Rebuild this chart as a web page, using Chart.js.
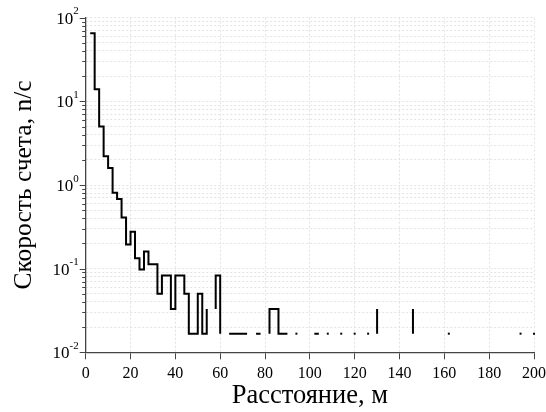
<!DOCTYPE html>
<html>
<head>
<meta charset="utf-8">
<script src="https://cdn.jsdelivr.net/npm/chart.js@4.4.0/dist/chart.umd.min.js"></script>
<style>
  html, body { margin: 0; padding: 0; background: #fff; }
  #chart { display: block; }
</style>
</head>
<body>
<canvas id="chart" width="546" height="412"></canvas>
<script>
/** Data **/

// Distance (m) of each step point. null rate = break in the line
const distance = [
    2, 4, 6, 8, 10, 12, 14, 16, 18, 20, 22, 24, 26, 28, 30, 32, 34, 36, 38, 40,
    42, 44, 46, 48, 50, 52, 54, 56, 58, 58, 60, 62,
    64, 66, 68, 70, 72, 74, 76, 78, 80,
    82, 82, 84, 86, 88, 90, 92, 94, 96, 102, 104, 106,
    108, 110, 114, 116, 120, 122, 126, 128, 130, 130, 132,
    146, 146, 148, 162, 164, 194, 196, 200
];

// Count rate (n/c)
const rate = [
    65, 14, 5.0, 2.2, 1.6, 0.81, 0.68, 0.41, 0.195, 0.277, 0.133, 0.098, 0.16, 0.113, 0.113, 0.05, 0.083, 0.083, 0.033, 0.083,
    0.083, 0.05, 0.0167, 0.0167, 0.05, 0.0167, 0.033, null, 0.033, 0.083, 0.0167, null,
    0.0167, 0.0167, 0.0167, 0.0167, 0.0167, null, 0.0167, 0.0167, null,
    0.0167, 0.033, 0.033, 0.0167, 0.0167, 0.0167, null, 0.0167, null, 0.0167, 0.0167, null,
    0.0167, null, 0.0167, null, 0.0167, null, 0.0167, null, 0.0167, 0.033, null,
    0.0167, 0.033, null, 0.0167, null, 0.0167, null, 0.0167
];

// Axis ticks
const xTickValues = [0, 20, 40, 60, 80, 100, 120, 140, 160, 180, 200];
const yMajorTicks = [0.01, 0.1, 1, 10, 100];
const yTickExponents = ["-2", "-1", "0", "1", "2"];

const xTitle = "Расстояние, м";
const yTitle = "Скорость счета, n/c";

/** Styles **/
const axis_color = "#444444";
const grid_color = "#e3e3e3";
const font_family = "'Liberation Serif', 'Times New Roman', serif";

// minor log ticks 2..9 in every decade
const yGridValues = [];
yMajorTicks.forEach(function(m, i) {
    yGridValues.push(m);
    if (i < yMajorTicks.length - 1) {
        for (let k = 2; k <= 9; k++) yGridValues.push(+(m * k).toPrecision(3));
    }
});

/** y axis tick marks and 10^n labels **/
const logAxisPlugin = {
    id: "logAxis",
    afterDraw(chart) {
        const ctx = chart.ctx;
        const y = chart.scales.y;
        const left = chart.chartArea.left;
        ctx.save();
        ctx.strokeStyle = axis_color;
        ctx.lineWidth = 1;
        y.ticks.forEach(function(t) {
            const py = Math.round(y.getPixelForValue(t.value)) + 0.5;
            const len = yMajorTicks.includes(t.value) ? 6 : 3.5;
            ctx.beginPath();
            ctx.moveTo(left - len, py);
            ctx.lineTo(left, py);
            ctx.stroke();
        });

        ctx.fillStyle = "#000";
        ctx.textBaseline = "alphabetic";
        ctx.textAlign = "left";
        yMajorTicks.forEach(function(v, i) {
            const py = y.getPixelForValue(v);
            ctx.font = "17px " + font_family;
            const wBase = ctx.measureText("10").width;
            ctx.font = "11px " + font_family;
            const wSup = ctx.measureText(yTickExponents[i]).width;
            const x0 = left - 7 - wBase - wSup;
            ctx.font = "17px " + font_family;
            ctx.fillText("10", x0, py + 6);
            ctx.font = "11px " + font_family;
            ctx.fillText(yTickExponents[i], x0 + wBase, py - 3.5);
        });
        ctx.restore();
    }
};

Chart.defaults.font.family = font_family;
Chart.defaults.color = "#000";

const points = distance.map(function(d, i) { return {x: d, y: rate[i]}; });

new Chart(document.getElementById("chart"), {
    type: "line",
    data: {
        datasets: [{
            data: points,
            borderColor: "#000",
            borderWidth: 2,
            stepped: "before",
            spanGaps: false,
            fill: false,
            clip: false,
            pointStyle: "rect",
            pointBackgroundColor: "#000",
            pointBorderWidth: 0,
            pointHoverRadius: 0,
            pointRadius: function(c) {
                const i = c.dataIndex;
                if (rate[i] == null) return 0;
                const prev = i > 0 ? rate[i - 1] : null;
                const next = i < rate.length - 1 ? rate[i + 1] : null;
                return (prev == null && next == null) ? 1.4 : 0;
            }
        }]
    },
    options: {
        responsive: false,
        animation: false,
        events: [],
        layout: { padding: { top: 17.7, right: 12, bottom: 0, left: 0 } },
        plugins: { legend: { display: false }, tooltip: { enabled: false } },
        scales: {
            x: {
                type: "linear",
                min: 0,
                max: 200,
                afterBuildTicks: function(s) { s.ticks = xTickValues.map(function(v) { return {value: v}; }); },
                afterFit: function(s) { s.height = 59.7; s.paddingLeft = 0; s.paddingRight = 0; },
                ticks: { color: "#000", font: { size: 16 }, padding: 5, maxRotation: 0, autoSkip: false },
                grid: { color: grid_color, lineWidth: 1, tickColor: axis_color, tickLength: 7, tickWidth: 1 },
                border: { display: true, color: axis_color, width: 1.3, dash: [2, 2] },
                title: { display: true, text: xTitle, color: "#000", font: { size: 26.5 }, padding: { top: 0, bottom: 0 } }
            },
            y: {
                type: "logarithmic",
                min: 0.01,
                max: 100,
                afterBuildTicks: function(s) { s.ticks = yGridValues.map(function(v) { return {value: v}; }); },
                afterFit: function(s) { s.width = 85.7; s.paddingTop = 0; s.paddingBottom = 0; },
                ticks: { display: false },
                grid: { color: grid_color, lineWidth: 1, drawTicks: false },
                border: { display: true, color: axis_color, width: 1.3, dash: [2, 2] },
                title: { display: true, text: yTitle, color: "#000", font: { size: 25.5 }, padding: { top: 9, bottom: 0 } }
            }
        }
    },
    plugins: [logAxisPlugin]
});
</script>
</body>
</html>
